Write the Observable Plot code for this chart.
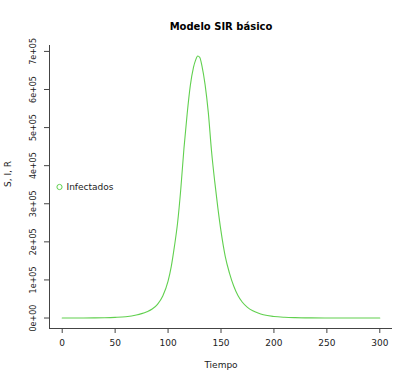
<!DOCTYPE html>
<html>
<head>
<meta charset="utf-8">
<script src="https://cdn.jsdelivr.net/npm/d3@7"></script>
<script src="https://cdn.jsdelivr.net/npm/@observablehq/plot@0.6"></script>
<style>
  html, body { margin: 0; padding: 0; background: #fff; }
</style>
</head>
<body>
<div id="chart"></div>
<script>
const tiempo = [0, 10, 20, 30, 40, 50, 60, 70, 75, 80, 85, 90, 95, 100, 103, 106, 109, 112, 115, 118, 121, 124, 126, 128, 130, 132, 135, 138, 141, 144, 147, 150, 154, 158, 162, 166, 170, 175, 180, 185, 190, 200, 210, 220, 235, 250, 270, 300];
const infectados = [10, 30, 90, 250, 640, 1600, 3400, 7800, 11500, 16500, 23500, 36000, 58000, 97000, 135000, 188000, 250000, 338000, 445000, 535000, 610000, 658000, 677000, 688000, 684000, 662000, 612000, 540000, 440000, 360000, 290000, 228000, 162000, 118000, 84000, 59000, 42000, 28000, 19000, 13000, 8500, 4000, 2000, 1000, 350, 130, 35, 5];
const xTicks = [0, 50, 100, 150, 200, 250, 300];
const yTicks = [0, 100000, 200000, 300000, 400000, 500000, 600000, 700000];
const yTickLabels = ["0e+00", "1e+05", "2e+05", "3e+05", "4e+05", "5e+05", "6e+05", "7e+05"];
const titulo = "Modelo SIR básico";
const etiquetaX = "Tiempo";
const etiquetaY = "S, I, R";
const leyenda = ["Infectados"];

const data = tiempo.map((t, i) => ({t, I: infectados[i]}));
const xmin = d3.min(tiempo), xmax = d3.max(tiempo);
const ymin = 0, ymax = d3.max(infectados);
const xPad = (xmax - xmin) * 0.04, yPad = (ymax - ymin) * 0.04;
const x0 = xmin - xPad, y0 = ymin - yPad;
const verde = "#61D04F";
const ink = "#222";

const chart = Plot.plot({
  width: 417,
  height: 384,
  marginLeft: 49,
  marginRight: 25,
  marginTop: 45,
  marginBottom: 56,
  style: {fontFamily: "DejaVu Sans", fontSize: "9px", background: "#fff", color: ink},
  x: {domain: [x0, xmax + xPad]},
  y: {domain: [y0, ymax + yPad]},
  marks: [
    Plot.ruleX([x0], {stroke: "#444"}),
    Plot.ruleY([y0], {stroke: "#444"}),
    Plot.axisX({ticks: xTicks, tickSize: 5, tickPadding: 6, tickFormat: d => String(d), label: null, stroke: "#444", fill: ink}),
    Plot.axisY({ticks: yTicks, tickSize: 5, tickFormat: () => "", label: null, stroke: "#444"}),
    Plot.text(yTicks, {y: d => d, text: (d, i) => yTickLabels[i], frameAnchor: "left", dx: -16, rotate: -90, textAnchor: "middle", lineAnchor: "middle", fontSize: 8, fill: ink}),
    Plot.line(data, {x: "t", y: "I", stroke: verde, strokeWidth: 1.1, curve: "monotone-x"}),
    Plot.dot(leyenda, {frameAnchor: "left", dx: 10, r: 2.6, stroke: verde, fill: "none", strokeWidth: 1}),
    Plot.text(leyenda, {text: d => d, frameAnchor: "left", dx: 17, textAnchor: "start", fill: ink}),
    Plot.text([titulo], {text: d => d, frameAnchor: "top", dy: -23, fontWeight: "bold", fontSize: 10, fill: "#000"}),
    Plot.text([etiquetaX], {text: d => d, frameAnchor: "bottom", dy: 39, fill: ink}),
    Plot.text([etiquetaY], {text: d => d, frameAnchor: "left", dx: -41, rotate: -90, fill: ink})
  ]
});
document.getElementById("chart").appendChild(chart);
</script>
</body>
</html>
